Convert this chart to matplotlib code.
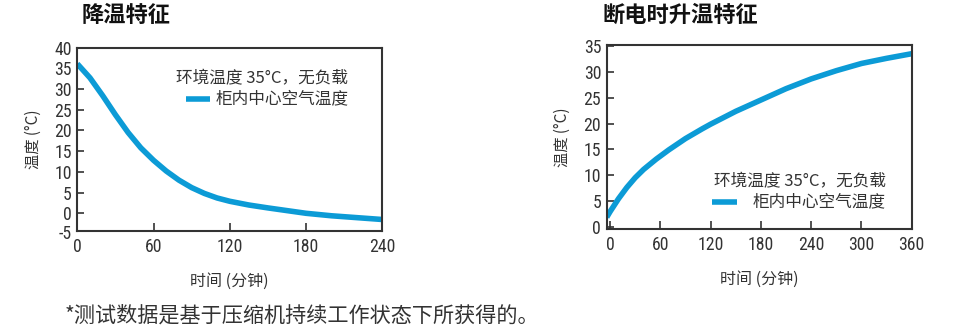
import numpy as np
import matplotlib
matplotlib.use("Agg")
import matplotlib.pyplot as plt

plt.rcParams['font.family'] = ['Noto Sans CJK SC', 'DejaVu Sans']
plt.rcParams['axes.unicode_minus'] = False

# cooling curve (left)
cool_t = [0, 10, 20, 30, 40, 50, 60, 70, 80, 90, 100, 110, 120, 135, 150, 165,
          180, 200, 220, 240]
cool_T = [36.1, 32.7, 28.4, 23.8, 19.5, 15.8, 12.8, 10.2, 8.0, 6.2, 4.8, 3.7, 2.9,
          2.0, 1.3, 0.65, 0.0, -0.6, -1.05, -1.5]

# warming after power cut (right)
warm_t = [-4, 0, 10, 20, 30, 40, 55, 70, 90, 110, 120, 150, 180, 210, 240, 270, 300,
          330, 360]
warm_T = [1.8, 2.9, 5.4, 7.6, 9.5, 11.1, 13.1, 14.9, 17.1, 19.0, 19.9, 22.4, 24.6,
          26.8, 28.7, 30.3, 31.7, 32.7, 33.6]

left_yticks = [0, 5, 10, 15, 20, 25, 30, 35, 40]
left_xticks = [0, 60, 120, 180, 240]
right_yticks = [0, 5, 10, 15, 20, 25, 30, 35]
right_xticks = [0, 60, 120, 180, 240, 300, 360]

line_color = '#0c9bd6'
dark = '#333333'
num_font = ['Roboto Condensed', 'Roboto', 'DejaVu Sans']
num_size = 12.8

fig = plt.figure(figsize=(9.54, 3.33), dpi=100)


def setup(ax, xticks, yticks, xlim, ylim):
    ax.set_xlim(*xlim)
    ax.set_ylim(*ylim)
    ax.set_xticks(xticks)
    ax.set_yticks(yticks)
    for s in ax.spines.values():
        s.set_color(dark)
        s.set_linewidth(1.5)
    ax.tick_params(axis='y', direction='in', length=5, width=1.2, color=dark,
                   labelcolor=dark, pad=4)
    ax.tick_params(axis='x', direction='in', length=6, width=1.2, color=dark,
                   labelcolor=dark, pad=5)
    for lab in ax.get_xticklabels() + ax.get_yticklabels():
        lab.set_family(num_font)
        lab.set_fontsize(num_size)
    ax.set_xlabel('时间 (分钟)', fontsize=11.5, color=dark, labelpad=12)
    ax.set_ylabel('温度 (°C)', fontsize=11, color=dark, labelpad=9)


ax1 = fig.add_axes([0.081, 0.306, 0.3197, 0.551])
ax1.plot(cool_t, cool_T, color=line_color, lw=4, solid_capstyle='butt')
setup(ax1, left_xticks, left_yticks, (0.8, 236), (-4.3, 40))
# the -5 label sits just under the lower spine in the original
ax1.annotate('-5', xy=(0, -5), xycoords=('axes fraction', 'data'),
             xytext=(-4, 0), textcoords='offset points', ha='right', va='center',
             family=num_font, fontsize=num_size, color=dark, annotation_clip=False)
ax1.text(0.888, 0.83, '环境温度 35°C，无负载', transform=ax1.transAxes,
         ha='right', va='center', fontsize=12, color=dark)
ax1.plot([0.355, 0.434], [0.72, 0.72], transform=ax1.transAxes,
         color=line_color, lw=4, solid_capstyle='butt')
ax1.text(0.888, 0.72, '柜内中心空气温度', transform=ax1.transAxes,
         ha='right', va='center', fontsize=12, color=dark)

ax2 = fig.add_axes([0.636, 0.312, 0.3197, 0.553])
ax2.plot(warm_t, warm_T, color=line_color, lw=4, solid_capstyle='butt')
setup(ax2, right_xticks, right_yticks, (-4, 358), (-0.5, 35.3))
ax2.text(0.915, 0.255, '环境温度 35°C，无负载', transform=ax2.transAxes,
         ha='right', va='center', fontsize=12, color=dark)
ax2.plot([0.344, 0.426], [0.147, 0.147], transform=ax2.transAxes,
         color=line_color, lw=4, solid_capstyle='butt')
ax2.text(0.915, 0.147, '柜内中心空气温度', transform=ax2.transAxes,
         ha='right', va='center', fontsize=12, color=dark)

fig.text(0.085, 0.955, '降温特征', fontsize=16, fontweight='bold', color='#111111',
         va='center')
fig.text(0.632, 0.955, '断电时升温特征', fontsize=16, fontweight='bold', color='#111111',
         va='center')
fig.text(0.068, 0.051, '*测试数据是基于压缩机持续工作状态下所获得的。', fontsize=15.2,
         color=dark, va='center')

fig.savefig('out.png', dpi=100)
